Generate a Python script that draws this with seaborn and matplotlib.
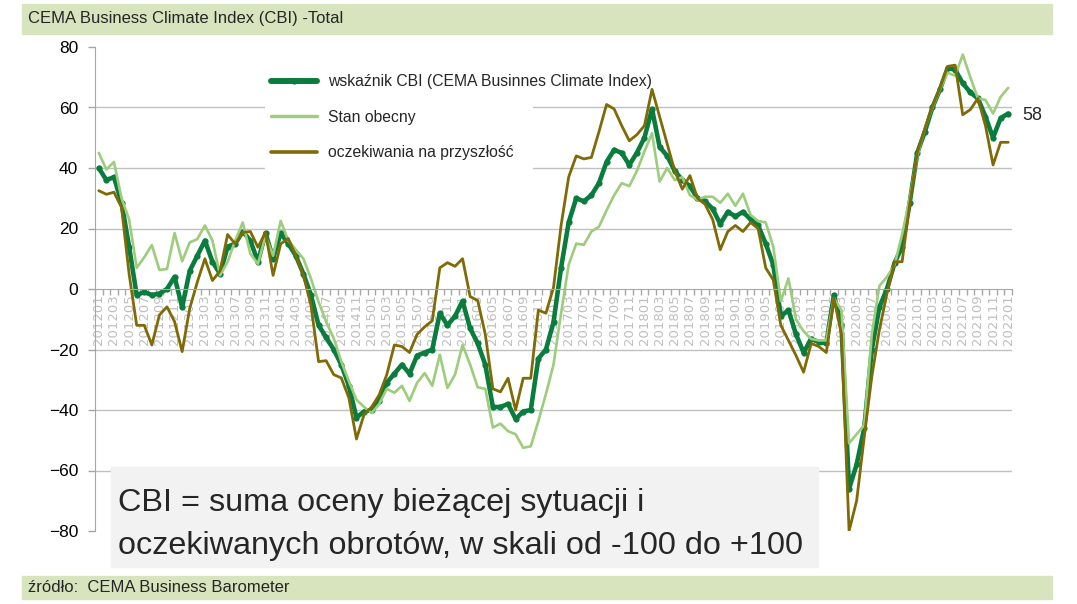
import numpy as np
import pandas as pd
import matplotlib
matplotlib.use("Agg")
import matplotlib.pyplot as plt
from matplotlib.patches import Rectangle
import seaborn as sns

# monthly categories 201201 .. 202201
months = [f"{y}{m:02d}" for y in range(2012, 2023) for m in range(1, 13)][:121]

cbi = [40, 36, 37, 28.5, 14, -2, -1, -2, -1.5, 0, 4, -6,
       6, 11, 16, 9, 5, 14, 15, 19, 16, 9, 18.5, 10,
       18.5, 15, 11, 5, -2, -12, -16, -20, -25, -32, -42.5, -40.5,
       -40, -37, -31, -28, -25, -28, -22, -21, -20, -8, -12, -9,
       -4, -13, -18, -25, -39, -39, -38, -43, -40.5, -40, -23, -20,
       -11, 7, 22, 30, 29, 31, 35, 42, 46, 45, 41, 45,
       50, 59.5, 47, 44, 39, 36, 34, 30, 29, 26.5, 21.5, 25.5,
       24, 25.5, 23, 21, 15, 8, -9, -7, -15, -21, -16.5, -17.5,
       -18, -2, -12, -66, -58, -46, -20, -6, 0, 8.6, 14, 28.5,
       45, 52, 60, 66, 73, 72.5, 68, 65, 63, 57, 50, 56.5,
       58]

stan = [45, 39.5, 42, 30, 23, 7, 10.5, 14.5, 6.3, 6.6, 18.5, 9.2,
        15.4, 16.5, 21, 16, 4.5, 9, 16, 22, 11.6, 8.3, 17.6, 11,
        22.5, 16, 13, 10, 3.4, -4.3, -10.8, -16.3, -24, -30.5, -36.6, -39,
        -41, -38, -33, -34.3, -32, -37, -31, -27.8, -32, -21.7, -32.7, -28.3,
        -18.5, -25, -32.5, -33, -45.8, -44.5, -47, -48, -52.5, -52, -43.7, -34.7,
        -25, -8, 8, 15, 14.6, 19, 20.6, 26, 31, 35, 34, 39,
        45.5, 51.5, 35.5, 40, 36, 37, 31, 29.5, 30.5, 30.5, 28.5, 31.5,
        27.5, 31.5, 24.5, 22.5, 22, 14, -4, 3.5, -10, -14, -16.5, -17,
        -17, -3, -7, -51, -48, -45, -15, 1, 4, 8, 18, 30,
        44, 53, 60, 66, 71.5, 70.5, 77.5, 70, 63, 62.5, 58, 63.5,
        66.5]

oczek = [32.5, 31.3, 32, 27, 5, -12, -12, -18.5, -8.6, -5.9, -10.8, -20.7,
         -6.4, 2.3, 10, 2.8, 6, 18, 14.9, 18.7, 19, 13.8, 18.7, 4.5,
         14.9, 16.7, 11, 4.5, -5.4, -24, -23.7, -28.3, -29.4, -36, -49.6, -41.5,
         -39, -35, -28.3, -18.5, -19, -21, -15, -12.5, -10.5, 7, 8.7, 7.5,
         10, -2.5, -3.8, -15, -33, -34, -29.5, -40, -29.5, -29.5, -7, -8,
         0.5, 21, 37, 44, 43, 43.5, 52, 61, 59.5, 54, 49, 51,
         54, 66, 57, 48, 39, 33, 37.5, 30, 28, 23, 13, 19,
         21, 19, 22, 20, 7, 3, -12, -17, -22, -27.5, -18, -19,
         -21, -3, -15, -80, -70, -49, -29, -13.5, -1.5, 9, 9, 28,
         45, 53, 60.4, 66.4, 73.6, 74, 57.6, 59.3, 63, 54, 41, 48.5,
         48.5]

labels = ["wskaźnik CBI (CEMA Businnes Climate Index)", "Stan obecny", "oczekiwania na przyszłość"]
colors = ["#0a7d3e", "#9ccc7c", "#7f6a05"]

df = pd.DataFrame({"pos": np.arange(len(months)), "cbi": cbi, "stan": stan, "oczek": oczek})

sns.set_style("white")
plt.rcParams["font.family"] = ["Liberation Sans", "DejaVu Sans"]

W, H = 1077, 604
fig = plt.figure(figsize=(W / 100, H / 100), dpi=100)
ax = fig.add_axes([95 / W, 1 - 531 / H, (1012 - 95) / W, (531 - 47) / H])
ax.set_axisbelow(True)

sns.lineplot(data=df, x="pos", y="cbi", ax=ax, color=colors[0], lw=3.3,
             marker="o", markersize=4.5, markeredgewidth=0, label=labels[0])
sns.lineplot(data=df, x="pos", y="stan", ax=ax, color=colors[1], lw=1.9, label=labels[1])
sns.lineplot(data=df, x="pos", y="oczek", ax=ax, color=colors[2], lw=2.0, label=labels[2])

ax.set_xlim(-0.5, len(months) - 0.5)
ax.set_ylim(-80, 80)
ax.set_xlabel("")
ax.set_ylabel("")

# y axis
ax.set_yticks(range(-80, 81, 20))
ax.tick_params(axis="y", direction="out", length=5, width=1, color="#a6a6a6",
               labelsize=12.5, pad=7, labelcolor="black", left=True)
ax.yaxis.grid(True, color="#c0c0c0", lw=1)
for val, gl in zip(range(-80, 81, 20), ax.yaxis.get_gridlines()):
    if val in (-80, 0, 80):
        gl.set_visible(False)

# x axis on the zero line
ax.spines["bottom"].set_position(("data", 0))
for s in ["top", "right"]:
    ax.spines[s].set_visible(False)
ax.spines["bottom"].set_color("#a6a6a6")
ax.spines["left"].set_color("#a6a6a6")
ax.set_xticks(np.arange(-0.5, len(months), 1), minor=True)
ax.set_xticks(np.arange(0, len(months), 2))
ax.set_xticklabels(months[::2], rotation=90, fontsize=9.5, color="#bfbfbf",
                   family="DejaVu Sans")
ax.tick_params(axis="x", which="major", length=0, pad=4, bottom=True)
ax.tick_params(axis="x", which="minor", direction="out", length=4, width=1,
               color="#a6a6a6", bottom=True)

# white legend area hides the gridlines but stays under the series
ax.add_patch(Rectangle((265 / W, 1 - 180 / H), 268 / W, 114 / H,
                       transform=fig.transFigure, facecolor="white",
                       edgecolor="none", zorder=1, clip_on=False))
leg = ax.legend(loc="upper left", bbox_to_anchor=(265 / W, 1 - 68 / H),
                bbox_transform=fig.transFigure, borderaxespad=0, frameon=False,
                handlelength=2.9, handletextpad=0.7, labelspacing=1.3,
                prop={"size": 11.3})
for h in leg.get_lines():
    h.set_linewidth(h.get_linewidth() * 1.3)

# end value label
fig.text(1022 / W, 1 - 116 / H, "58", fontsize=13, va="center", ha="left")

# header and footer bands
fig.patches.append(Rectangle((22 / W, 1 - 34 / H), 1030 / W, 30 / H,
                             transform=fig.transFigure, color="#d7e4bd", zorder=1))
fig.text(28 / W, 1 - 19 / H, "CEMA Business Climate Index (CBI) -Total",
         fontsize=12, va="center", ha="left", zorder=2)
fig.patches.append(Rectangle((22 / W, 1 - 599 / H), 1030 / W, 23 / H,
                             transform=fig.transFigure, color="#d7e4bd", zorder=1))
fig.text(28 / W, 1 - 587 / H, "źródło:  CEMA Business Barometer",
         fontsize=12, va="center", ha="left", zorder=2)

# note box
fig.patches.append(Rectangle((111 / W, 1 - 567 / H), 707 / W, 100 / H,
                             transform=fig.transFigure, color="#f2f2f2", zorder=1))
fig.text(118 / W, 1 - 511 / H, "CBI = suma oceny bieżącej sytuacji i",
         fontsize=23.3, va="baseline", ha="left", zorder=2)
fig.text(118 / W, 1 - 554 / H, "oczekiwanych obrotów, w skali od -100 do +100",
         fontsize=23.3, va="baseline", ha="left", zorder=2)

fig.savefig("out.png", dpi=100)
